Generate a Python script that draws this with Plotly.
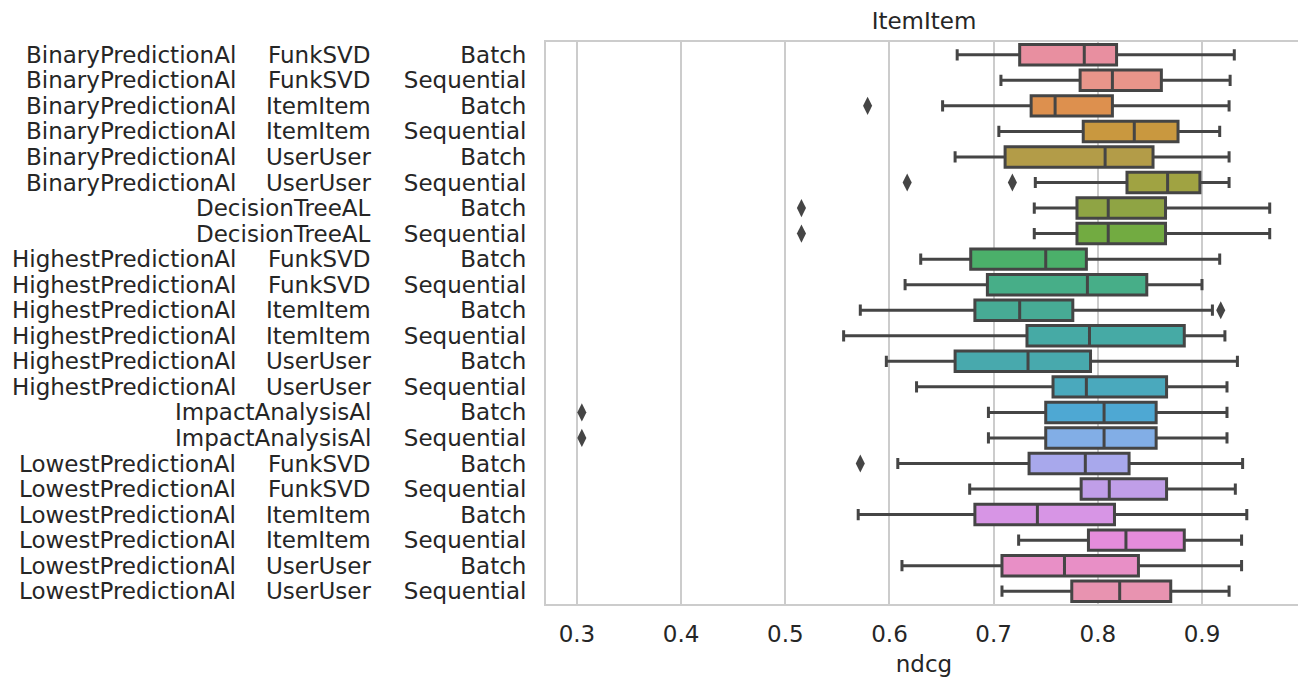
import plotly.graph_objects as go

# ---------------- data ----------------
strategy = ["BinaryPredictionAl"] * 6 + ["", ""] + ["HighestPredictionAl"] * 6 + ["", ""] + ["LowestPredictionAl"] * 6
model = ["FunkSVD", "FunkSVD", "ItemItem", "ItemItem", "UserUser", "UserUser",
         "DecisionTreeAL", "DecisionTreeAL",
         "FunkSVD", "FunkSVD", "ItemItem", "ItemItem", "UserUser", "UserUser",
         "ImpactAnalysisAl", "ImpactAnalysisAl",
         "FunkSVD", "FunkSVD", "ItemItem", "ItemItem", "UserUser", "UserUser"]
mode = ["Batch", "Sequential"] * 11

lower_whisker = [0.665, 0.707, 0.651, 0.705, 0.663, 0.740, 0.739, 0.739, 0.630, 0.615, 0.572,
                 0.556, 0.597, 0.626, 0.695, 0.695, 0.608, 0.677, 0.570, 0.724, 0.612, 0.708]
q1 = [0.725, 0.783, 0.736, 0.786, 0.711, 0.828, 0.780, 0.780, 0.678, 0.694, 0.682,
      0.732, 0.663, 0.757, 0.750, 0.750, 0.734, 0.784, 0.682, 0.791, 0.708, 0.775]
median = [0.787, 0.814, 0.759, 0.835, 0.807, 0.867, 0.810, 0.810, 0.750, 0.790, 0.725,
          0.792, 0.733, 0.789, 0.806, 0.806, 0.788, 0.811, 0.742, 0.827, 0.768, 0.821]
q3 = [0.818, 0.861, 0.814, 0.877, 0.853, 0.898, 0.865, 0.865, 0.789, 0.847, 0.776,
      0.883, 0.793, 0.866, 0.856, 0.856, 0.830, 0.866, 0.816, 0.883, 0.839, 0.870]
upper_whisker = [0.931, 0.927, 0.926, 0.917, 0.926, 0.926, 0.965, 0.965, 0.917, 0.900, 0.910,
                 0.922, 0.934, 0.924, 0.924, 0.924, 0.939, 0.932, 0.943, 0.938, 0.938, 0.926]

outlier_rows = [2, 5, 5, 6, 7, 10, 14, 15, 16]
outlier_vals = [0.579, 0.617, 0.718, 0.5155, 0.5155, 0.918, 0.3047, 0.3047, 0.572]

x_ticks = [0.3, 0.4, 0.5, 0.6, 0.7, 0.8, 0.9]
title_text = "ItemItem"
x_label = "ndcg"

# ---------------- style ----------------
colors = ["#e88fa0", "#e8958a", "#dd904e", "#c9983f", "#b39c48", "#a0a342",
          "#8fa444", "#72ab41", "#4bb06a", "#47ae88", "#47ab95", "#46aaa5",
          "#48a9ad", "#4aa9bd", "#4ea8d3", "#82aee6", "#a8a8ec", "#c09ee8",
          "#d795e5", "#e58cdb", "#e88fc6", "#e893b0"]
gray = "#454545"

# the page body has an 8px margin; the figure is sized/offset to compensate
OFF = 8
W, H = 1306 - OFF, 683 - OFF
PL, PR, PT, PB = 546, 1302, 42, 604          # plot-area edges in page pixels
L_M, R_M, T_M, B_M = PL - OFF, W - (PR - OFF), PT - OFF, H - (PB - OFF)
FONT = "DejaVu Sans"
TXT = "#262626"
n = len(mode)

fig = go.Figure()
for i in range(n):
    fig.add_trace(go.Box(
        y=[i], q1=[q1[i]], median=[median[i]], q3=[q3[i]],
        lowerfence=[lower_whisker[i]], upperfence=[upper_whisker[i]],
        orientation="h", width=0.8, whiskerwidth=0.55,
        fillcolor=colors[i], line=dict(color=gray, width=3),
        boxpoints=False, showlegend=False, hoverinfo="x",
    ))

fig.add_trace(go.Scatter(
    x=outlier_vals, y=outlier_rows, mode="markers",
    marker=dict(symbol="diamond-tall", size=13, color=gray, line=dict(width=0)),
    showlegend=False,
))

plot_w = PR - PL
col1_x = (238 - PL) / plot_w
col2_x = (373 - PL) / plot_w
annotations = []
for i in range(n):
    if strategy[i]:
        annotations.append(dict(x=col1_x, y=i, xref="paper", yref="y", text=strategy[i],
                                xanchor="right", yanchor="middle", showarrow=False,
                                font=dict(family=FONT, size=23, color=TXT)))
    annotations.append(dict(x=col2_x, y=i, xref="paper", yref="y", text=model[i],
                            xanchor="right", yanchor="middle", showarrow=False,
                            font=dict(family=FONT, size=23, color=TXT)))

fig.update_layout(
    width=W, height=H,
    margin=dict(l=L_M, r=R_M, t=T_M, b=B_M, autoexpand=False),
    paper_bgcolor="white", plot_bgcolor="white",
    boxmode="overlay",
    font=dict(family=FONT, size=23, color=TXT),
    title=dict(text=title_text, x=0.5, xref="paper", xanchor="center",
               y=1 - (21 - OFF) / H, yref="container", yanchor="middle",
               font=dict(family=FONT, size=23, color=TXT)),
    annotations=annotations,
    xaxis=dict(range=[0.2703, 0.996], tickvals=x_ticks, ticktext=[f"{v:.1f}" for v in x_ticks],
               showgrid=True, gridcolor="#cccccc", gridwidth=1.5, zeroline=False,
               showline=True, linecolor="#cccccc", linewidth=2, mirror=True,
               ticks="", ticklabelstandoff=8,
               tickfont=dict(family=FONT, size=23, color=TXT),
               title=dict(text=x_label, standoff=10, font=dict(family=FONT, size=23, color=TXT))),
    yaxis=dict(range=[n - 0.5, -0.5], tickvals=list(range(n)), ticktext=mode,
               showgrid=False, zeroline=False,
               showline=True, linecolor="#cccccc", linewidth=2, mirror=True,
               ticks="", ticklabelstandoff=13,
               tickfont=dict(family=FONT, size=23, color=TXT)),
)

fig.write_html("out.html")
